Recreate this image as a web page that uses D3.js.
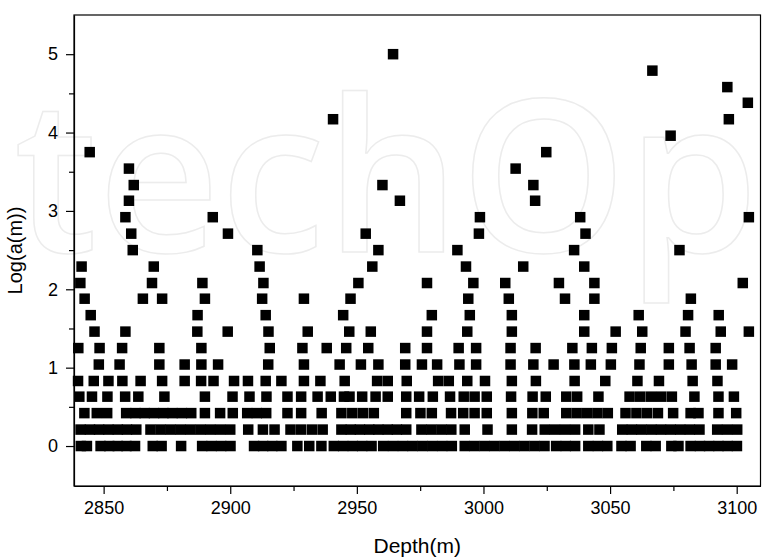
<!DOCTYPE html>
<html>
<head>
<meta charset="utf-8">
<script src="https://cdnjs.cloudflare.com/ajax/libs/d3/7.8.5/d3.min.js"></script>
<style>
  body { margin: 0; background: #fff; }
  text { font-family: "Liberation Sans", Arial, sans-serif; }
</style>
</head>
<body>
<div id="chart"></div>
<script>
// discrete Log(a(m)) levels, one per row of squares
var levels = [0, 0.21, 0.42, 0.63, 0.83, 1.04, 1.25, 1.46, 1.67, 1.88, 2.08, 2.29, 2.5,
              2.71, 2.92, 3.13, 3.33, 3.54, 3.75, 3.96, 4.17, 4.38, 4.58, 4.79, 5.0];

// depths (m) of the squares on each level
var depthsByLevel = [
  [2841.0, 2843.4, 2848.8, 2852.2, 2855.6, 2859.0, 2862.4, 2869.4, 2872.9, 2880.6, 2888.9, 2892.6,
   2896.4, 2900.1, 2909.4, 2913.0, 2916.6, 2920.2, 2926.5, 2931.2, 2936.0, 2940.9, 2944.6, 2948.4,
   2952.1, 2955.8, 2960.4, 2964.3, 2968.2, 2972.0, 2975.9, 2979.8, 2983.7, 2987.5, 2992.6, 2996.5,
   3000.5, 3004.4, 3008.4, 3012.3, 3016.2, 3020.2, 3024.1, 3028.7, 3032.5, 3036.2, 3041.4, 3045.2,
   3048.9, 3054.5, 3058.1, 3064.3, 3068.0, 3074.2, 3077.0, 3081.8, 3085.5, 3089.1, 3092.8, 3096.4, 3100.1],
  [2840.9, 2844.6, 2848.2, 2851.9, 2855.6, 2859.2, 2862.9, 2868.5, 2872.5, 2876.4, 2880.3, 2884.2,
   2888.2, 2892.1, 2896.0, 2900.0, 2907.1, 2912.9, 2917.5, 2923.8, 2928.0, 2932.3, 2936.5, 2943.9,
   2947.6, 2951.2, 2954.9, 2958.5, 2962.2, 2965.8, 2969.5, 2975.5, 2979.4, 2983.4, 2987.3, 2992.6,
   3001.6, 3011.2, 3019.2, 3024.2, 3028.2, 3032.2, 3036.2, 3041.4, 3045.8, 3054.8, 3058.6, 3062.4,
   3066.3, 3070.1, 3073.9, 3077.7, 3081.5, 3085.3, 3092.3, 3096.2, 3100.2],
  [2842.4, 2847.3, 2851.4, 2858.9, 2862.6, 2866.2, 2869.9, 2873.6, 2877.2, 2880.9, 2884.6, 2890.0,
   2896.0, 2901.0, 2906.7, 2910.5, 2914.2, 2922.6, 2928.0, 2936.1, 2943.9, 2948.2, 2952.4, 2956.7,
   2969.5, 2975.1, 2979.6, 2987.2, 2992.0, 2996.5, 3001.3, 3011.2, 3019.3, 3023.8, 3032.7, 3036.8,
   3040.9, 3045.0, 3049.1, 3056.1, 3060.4, 3064.6, 3068.9, 3074.9, 3081.8, 3084.9, 3092.8, 3099.8],
  [2840.4, 2845.4, 2851.5, 2858.5, 2863.7, 2874.0, 2890.0, 2900.9, 2907.6, 2914.3, 2922.6, 2928.0,
   2934.5, 2939.7, 2944.9, 2947.1, 2952.1, 2957.4, 2962.2, 2969.5, 2974.6, 2980.0, 2986.8, 2992.2,
   2996.5, 3001.3, 3010.9, 3019.4, 3024.6, 3032.7, 3037.0, 3045.4, 3057.7, 3061.9, 3066.1, 3070.2,
   3074.4, 3083.3, 3092.8, 3098.9],
  [2839.9, 2846.1, 2851.9, 2857.4, 2864.6, 2873.1, 2882.0, 2888.5, 2893.4, 2901.5, 2907.0, 2914.0,
   2920.2, 2929.1, 2935.6, 2945.2, 2958.0, 2962.2, 2969.7, 2982.1, 2986.3, 2993.6, 3000.6, 3011.2,
   3020.7, 3036.0, 3048.1, 3060.8, 3069.3, 3082.6, 3092.4],
  [2848.1, 2856.3, 2872.0, 2882.0, 2888.6, 2895.2, 2915.0, 2929.1, 2943.2, 2951.6, 2958.5, 2969.1,
   2975.7, 2981.7, 2990.5, 2997.1, 3010.7, 3019.7, 3027.7, 3035.9, 3042.4, 3050.3, 3061.6, 3073.2,
   3082.2, 3091.7, 3098.2],
  [2840.0, 2848.4, 2857.3, 2872.0, 2888.6, 2915.6, 2928.5, 2938.1, 2945.8, 2954.5, 2969.1, 2977.7,
   2990.2, 2997.1, 3010.7, 3020.6, 3035.1, 3042.8, 3050.7, 3062.1, 3073.2, 3081.4, 3091.7],
  [2846.4, 2858.6, 2887.0, 2899.0, 2915.1, 2930.6, 2947.0, 2955.5, 2977.7, 2993.6, 3011.2, 3039.8,
   3052.2, 3062.7, 3079.8, 3093.7, 3104.8],
  [2844.9, 2887.1, 2914.0, 2944.6, 2979.6, 2994.6, 3011.2, 3039.8, 3061.3, 3080.8, 3092.9],
  [2842.5, 2865.5, 2873.1, 2890.0, 2912.6, 2929.1, 2947.5, 2994.0, 3010.0, 3032.2, 3043.8, 3081.9],
  [2840.8, 2869.1, 2889.0, 2913.1, 2950.6, 2977.7, 2996.0, 3008.6, 3029.8, 3043.8, 3102.4],
  [2841.3, 2869.8, 2911.6, 2956.1, 2993.1, 3015.7, 3039.8],
  [2861.5, 2910.7, 2958.5, 2989.7, 3035.8, 3077.4],
  [2860.9, 2899.1, 2953.5, 2998.2, 3040.3],
  [2858.6, 2893.1, 2998.6, 3038.2, 3104.8],
  [2860.0, 2967.0, 3020.4],
  [2861.9, 2960.1, 3019.7],
  [2860.0, 3012.7],
  [2844.5, 3024.8],
  [3073.9],
  [2940.6, 3096.9],
  [3104.4],
  [3096.3],
  [3066.7],
  [2964.3]
];

var xTicks = [2850, 2900, 2950, 3000, 3050, 3100];
var xMinorTicks = [2875, 2925, 2975, 3025, 3075];
var yTicks = [0, 1, 2, 3, 4, 5];
var yMinorTicks = [0.5, 1.5, 2.5, 3.5, 4.5];

// set the dimensions and margins of the graph
var margin = {top: 15, right: 2.5, bottom: 73, left: 74},
    width = 763 - margin.left - margin.right,
    height = 559 - margin.top - margin.bottom;

var root = d3.select("#chart")
  .append("svg")
    .attr("width", 763)
    .attr("height", 559);

// faint publisher watermark behind everything
root.append("text")
  .text("techOpen")
  .attr("x", 14)
  .attr("y", 252)
  .style("font-family", "'Open Sans', sans-serif")
  .style("font-weight", 600)
  .attr("font-size", "212px")
  .attr("fill", "none")
  .attr("stroke", "#ececec")
  .attr("stroke-width", 1.5);

var svg = root.append("g")
    .attr("transform", "translate(" + margin.left + "," + margin.top + ")");

var x = d3.scaleLinear()
  .domain([2838.3, 3109.4])
  .range([0, width]);

var y = d3.scaleLinear()
  .domain([-0.51, 5.5])
  .range([height, 0]);

// flatten rows into points
var points = [];
for (var i = 0; i < levels.length; i++) {
  depthsByLevel[i].forEach(function(d) {
    points.push({depth: d, value: levels[i]});
  });
}

var size = 10.5;
svg.selectAll("rect.pt")
  .data(points)
  .enter()
  .append("rect")
    .attr("class", "pt")
    .attr("x", function(d) { return x(d.depth) - size / 2; })
    .attr("y", function(d) { return y(d.value) - size / 2; })
    .attr("width", size)
    .attr("height", size)
    .attr("fill", "#000");

// minor ticks
svg.append("g")
  .attr("transform", "translate(0," + height + ")")
  .call(d3.axisBottom(x).tickValues(xMinorTicks).tickSize(5).tickFormat(""))
  .call(function(g) { g.select(".domain").remove(); });
svg.append("g")
  .call(d3.axisLeft(y).tickValues(yMinorTicks).tickSize(5).tickFormat(""))
  .call(function(g) { g.select(".domain").remove(); });

// major axes
var xAxis = svg.append("g")
  .attr("transform", "translate(0," + height + ")")
  .call(d3.axisBottom(x).tickValues(xTicks).tickSize(8).tickPadding(7)
        .tickSizeOuter(0).tickFormat(d3.format("d")));
var yAxis = svg.append("g")
  .call(d3.axisLeft(y).tickValues(yTicks).tickSize(8).tickPadding(8)
        .tickSizeOuter(0).tickFormat(d3.format("d")));

[xAxis, yAxis].forEach(function(g) {
  g.selectAll("text")
    .style("font-family", "'Liberation Sans', Arial, sans-serif")
    .attr("font-size", "18px")
    .attr("fill", "#000");
  g.select(".domain").attr("stroke", "#000").attr("stroke-width", 1.2);
});
svg.selectAll(".tick line").attr("stroke", "#000").attr("stroke-width", 1.2);

// frame
svg.append("rect")
  .attr("width", width)
  .attr("height", height)
  .attr("fill", "none")
  .attr("stroke", "#000")
  .attr("stroke-width", 1.2);

// axis titles
svg.append("text")
  .text("Depth(m)")
  .attr("x", width / 2)
  .attr("y", height + 67)
  .attr("text-anchor", "middle")
  .attr("font-size", "21px");

svg.append("text")
  .text("Log(a(m))")
  .attr("transform", "translate(" + (-52) + "," + (height / 2) + ") rotate(-90)")
  .attr("text-anchor", "middle")
  .attr("font-size", "20px");
</script>
</body>
</html>
